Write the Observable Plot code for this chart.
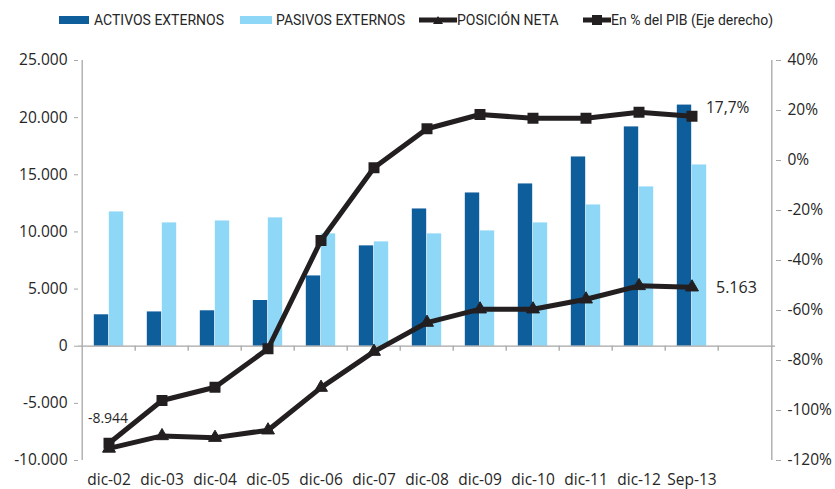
<!DOCTYPE html>
<html>
<head>
<meta charset="utf-8">
<script src="https://cdn.jsdelivr.net/npm/d3@7"></script>
<script src="https://cdn.jsdelivr.net/npm/@observablehq/plot@0.6"></script>
<style>
  body { margin: 0; background: #fff; }
  #wrap { position: relative; width: 835px; height: 489px; }
  #legend { position: absolute; left: 0; top: 0; width: 835px; height: 40px; font-family: Roboto, sans-serif; font-size: 14px; color: #262626; }
  #legend .it { position: absolute; top: 12px; line-height: 16px; white-space: nowrap; }
  #legend .sw { position: absolute; }
</style>
</head>
<body>
<div id="wrap">
  <div id="chart"></div>
  <div id="legend"></div>
</div>
<script>
// ---- data ----
const categories = ["dic-02","dic-03","dic-04","dic-05","dic-06","dic-07","dic-08","dic-09","dic-10","dic-11","dic-12","Sep-13"];
const activos = [2750, 3000, 3100, 4000, 6150, 8780, 12010, 13410, 14200, 16560, 19190, 21100];
const pasivos = [11750, 10790, 10960, 11230, 9830, 9130, 9830, 10090, 10790, 12360, 13940, 15860];
const posicionNeta = [-8944, -7850, -8000, -7350, -3620, -470, 2070, 3240, 3240, 4110, 5280, 5163];
const pctPIB = [-113.1, -96, -90.7, -75.3, -32, -2.9, 12.7, 18.4, 16.9, 16.9, 19.3, 17.7];
const leftTicks = [-10000, -5000, 0, 5000, 10000, 15000, 20000, 25000];
const rightTicks = [-120, -100, -80, -60, -40, -20, 0, 20, 40];
const seriesNames = ["ACTIVOS EXTERNOS", "PASIVOS EXTERNOS", "POSICIÓN NETA", "En % del PIB (Eje derecho)"];

// ---- helpers ----
const loc = d3.formatLocale({decimal: ",", thousands: ".", grouping: [3], currency: ["", ""], minus: "-"});
const fmtInt = loc.format(",.0f");
const fmtPct1 = loc.format(",.1f");
const leftDomain = [-10000, 25000];
const rightDomain = [-120, 40];
const toLeft = d3.scaleLinear().domain(rightDomain).range(leftDomain);

const xDomain = [...categories, " "];
const W = 835, H = 489, mL = 78, mR = 60, mT = 60, mB = 29;
const bw = (W - mL - mR) / xDomain.length;
const barW = 15;

const rows = categories.map((c, i) => ({c, a: activos[i], p: pasivos[i], n: posicionNeta[i], pct: pctPIB[i]}));
const dark = "#0F5E9C", light = "#8ED7F6", ink = "#231F20", grid = "#A6A6A6", txt = "#262626";

const chart = Plot.plot({
  width: W, height: H,
  marginLeft: mL, marginRight: mR, marginTop: mT, marginBottom: mB,
  style: {fontFamily: "'Open Sans', sans-serif", fontSize: "15.5px", color: txt, background: "#fff", overflow: "visible"},
  x: {type: "band", domain: xDomain, paddingInner: 0, paddingOuter: 0, axis: null, label: null},
  y: {domain: leftDomain, axis: null, label: null},
  marks: [
    Plot.barY(rows, {x: "c", y: "a", fill: dark, insetLeft: bw/2 - barW, insetRight: bw/2}),
    Plot.barY(rows, {x: "c", y: "p", fill: light, insetLeft: bw/2, insetRight: bw/2 - barW}),
    // axis lines
    Plot.ruleY([0], {stroke: grid, strokeWidth: 1.3}),
    Plot.ruleX([categories[0]], {dx: -bw/2, stroke: grid, strokeWidth: 1.3}),
    Plot.ruleX([" "], {dx: bw/2, stroke: grid, strokeWidth: 1.3}),
    // x ticks at band boundaries
    Plot.ruleX(xDomain.slice(1), {dx: -bw/2, y1: 0, y2: -440, stroke: grid, strokeWidth: 1.3}),
    Plot.axisY({ticks: leftTicks, anchor: "left", label: null, tickSize: 4, tickPadding: 7, stroke: grid, tickFormat: fmtInt, fill: txt}),
    Plot.axisY({ticks: rightTicks.map(toLeft), anchor: "right", label: null, tickSize: 5, tickPadding: 7, stroke: grid, fill: txt,
      tickFormat: v => loc.format(",.0f")(toLeft.invert(v)) + "%"}),
    Plot.axisX({ticks: categories, anchor: "bottom", label: null, tickSize: 0, tickPadding: 13, fill: txt}),
    // lines
    Plot.line(rows, {x: "c", y: "n", stroke: ink, strokeWidth: 5}),
    Plot.dot(rows, {x: "c", y: "n", symbol: "triangle", r: 4.8, fill: ink, stroke: ink, strokeWidth: 1}),
    Plot.line(rows, {x: "c", y: d => toLeft(d.pct), stroke: ink, strokeWidth: 5}),
    Plot.dot(rows, {x: "c", y: d => toLeft(d.pct), symbol: "square", r: 6.2, fill: ink, stroke: "none"}),
    // data labels
    Plot.text([rows[0]], {x: "c", y: "n", text: d => fmtInt(d.n), dy: -30, dx: -1, fontSize: 14, fill: txt}),
    Plot.text([rows[rows.length-1]], {x: "c", y: "n", text: d => fmtInt(d.n), dx: 24, dy: 1, textAnchor: "start", fontSize: 16, fill: txt}),
    Plot.text([rows[rows.length-1]], {x: "c", y: d => toLeft(d.pct), text: d => fmtPct1(d.pct) + "%", dx: 14, dy: -8, textAnchor: "start", fontSize: 15.5, fill: txt})
  ]
});
document.getElementById("chart").appendChild(chart);

// ---- legend ----
const lg = document.getElementById("legend");
const items = [
  {name: seriesNames[0], kind: "rect", color: dark, swX: 59, swW: 30, tx: 94},
  {name: seriesNames[1], kind: "rect", color: light, swX: 240, swW: 32, tx: 276},
  {name: seriesNames[2], kind: "tri", color: ink, swX: 419, swW: 38, tx: 457},
  {name: seriesNames[3], kind: "sq", color: ink, swX: 583, swW: 28, tx: 611}
];
items.forEach(it => {
  const sw = document.createElementNS("http://www.w3.org/2000/svg", "svg");
  sw.setAttribute("width", it.swW); sw.setAttribute("height", 14);
  sw.setAttribute("class", "sw");
  sw.style.left = it.swX + "px"; sw.style.top = "13px";
  let inner;
  if (it.kind === "rect") inner = `<rect x="0" y="3" width="${it.swW}" height="8" fill="${it.color}"/>`;
  else if (it.kind === "tri") inner = `<line x1="0" x2="${it.swW}" y1="7" y2="7" stroke="${it.color}" stroke-width="5" stroke-linecap="round"/><path d="M${it.swW/2-5},11 L${it.swW/2+5},11 L${it.swW/2},3 Z" fill="${it.color}"/>`;
  else inner = `<line x1="0" x2="${it.swW}" y1="7" y2="7" stroke="${it.color}" stroke-width="5" stroke-linecap="round"/><rect x="${it.swW/2-5}" y="2" width="10" height="10" fill="${it.color}"/>`;
  sw.innerHTML = inner;
  lg.appendChild(sw);
  const t = document.createElement("span");
  t.className = "it"; t.style.left = it.tx + "px"; t.textContent = it.name;
  lg.appendChild(t);
});
</script>
</body>
</html>
